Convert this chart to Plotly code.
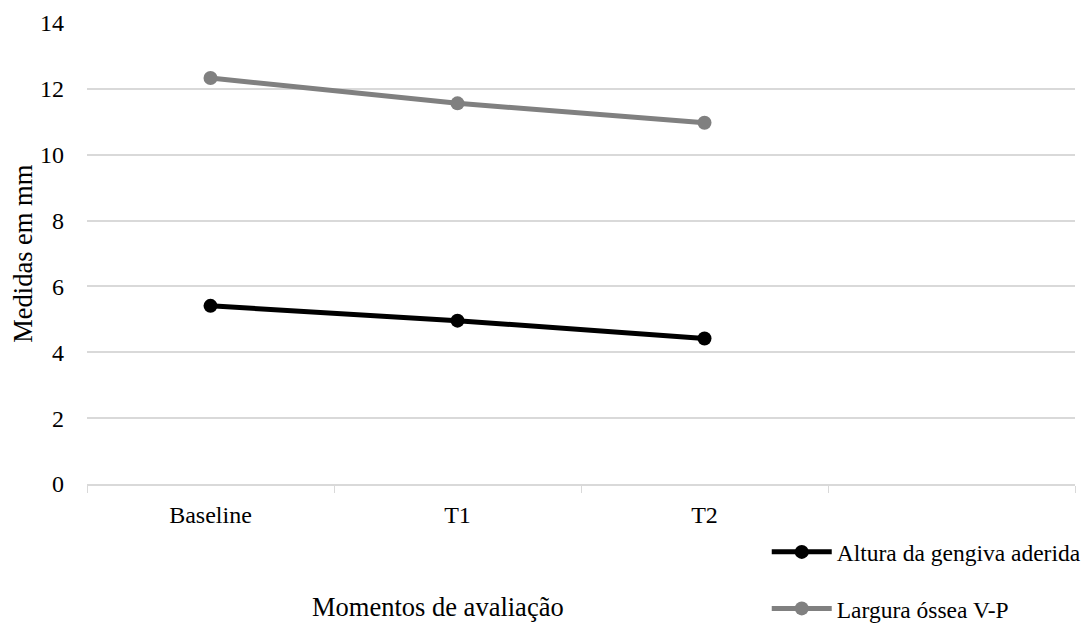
import plotly.graph_objects as go

momentos = ["Baseline", "T1", "T2"]
eixo_x = momentos + [" "]
altura_gengiva = [5.41, 4.96, 4.42]
largura_ossea = [12.33, 11.56, 10.97]
nomes = ["Altura da gengiva aderida", "Largura óssea V-P"]
cores = ["#000000", "#808080"]

fig = go.Figure()
for i, (serie, nome) in enumerate(zip([altura_gengiva, largura_ossea], nomes)):
    fig.add_trace(go.Scatter(
        x=momentos, y=serie, name=nome, mode="lines+markers",
        legendgroup=str(i),
        line=dict(color=cores[i], width=5),
        marker=dict(color=cores[i], size=14),
    ))

fonte = dict(family="Liberation Serif", size=24, color="#000000")
fonte_legenda = dict(family="Liberation Serif", size=23.5, color="#000000")
fonte_titulo = dict(family="Liberation Serif", size=26.5, color="#000000")

# a pagina tem margem de 8px no body, por isso 1082x624
fig.update_layout(
    width=1082, height=624,
    margin=dict(l=79, r=15, t=15, b=148, autoexpand=False),
    paper_bgcolor="white", plot_bgcolor="white",
    font=fonte,
    showlegend=True,
    legend=dict(x=0.688, y=-0.10, xanchor="left", yanchor="top",
                tracegroupgap=23, itemwidth=60, font=fonte_legenda,
                bgcolor="rgba(0,0,0,0)"),
    xaxis=dict(type="category", categoryorder="array", categoryarray=eixo_x,
               range=[-0.5, 3.5], tickson="boundaries", ticks="outside",
               ticklen=7, tickcolor="#d9d9d9", showline=True, linecolor="#d9d9d9",
               linewidth=1.5, showgrid=False, zeroline=False, tickfont=fonte,
               ticklabelstandoff=8, automargin=False),
    yaxis=dict(range=[0, 14], dtick=2, showgrid=True, gridcolor="#d9d9d9",
               gridwidth=1.5, zeroline=False, showline=False, ticks="",
               ticklabelstandoff=22, tickfont=fonte, automargin=False),
    annotations=[
        dict(text="Momentos de avaliação", xref="paper", yref="paper",
             x=0.355, y=-0.267, showarrow=False, font=fonte_titulo,
             xanchor="center", yanchor="middle"),
        dict(text="Medidas em mm", xref="paper", yref="paper",
             x=-0.0655, y=0.5, showarrow=False, font=fonte_titulo, textangle=-90,
             xanchor="center", yanchor="middle"),
    ],
)

fig.write_html("out.html")
